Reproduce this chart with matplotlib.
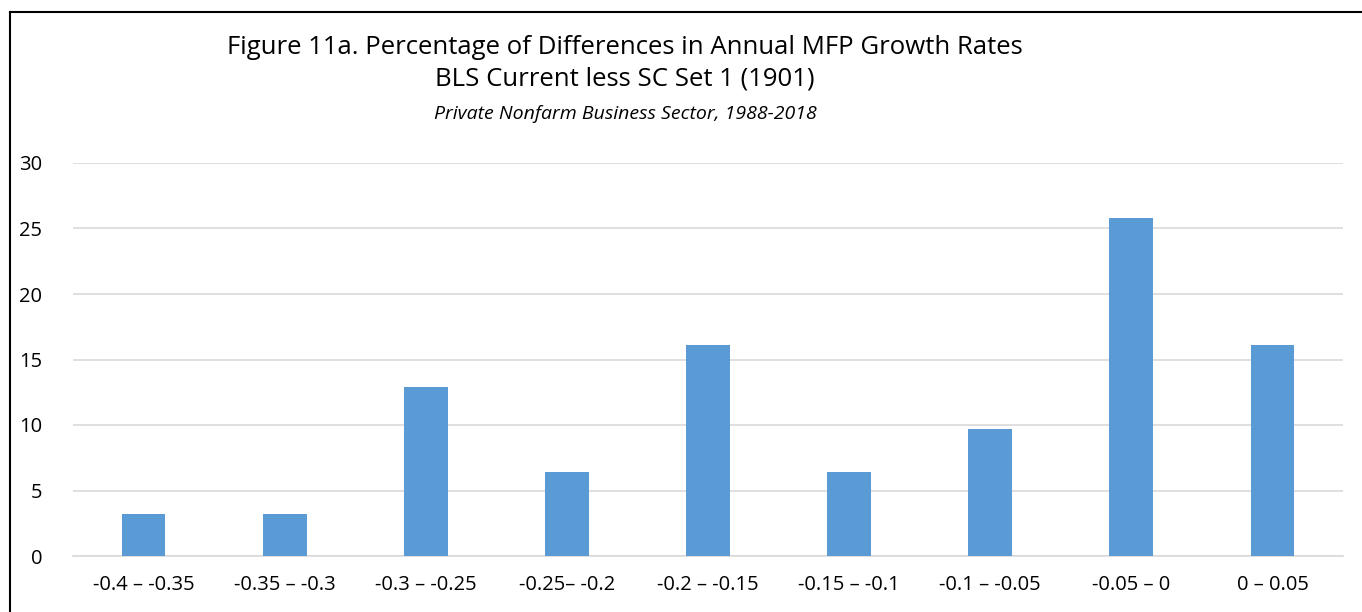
import matplotlib.pyplot as plt
import numpy as np
from matplotlib.lines import Line2D

# shares of 31 years falling in each bin (percent)
bins = ['-0.4 \u2013 -0.35', '-0.35 \u2013 -0.3', '-0.3 \u2013 -0.25', '-0.25\u2013 -0.2',
        '-0.2 \u2013 -0.15', '-0.15 \u2013 -0.1', '-0.1 \u2013 -0.05', '-0.05 \u2013 0',
        '0 \u2013 0.05']
percent = [3.23, 3.23, 12.90, 6.45, 16.13, 6.45, 9.68, 25.81, 16.13]
y_ticks = [0, 5, 10, 15, 20, 25, 30]

plt.rcParams['font.family'] = ['Open Sans', 'DejaVu Sans']

W, H = 1362, 612
fig = plt.figure(figsize=(W / 100, H / 100), dpi=100)
ax = fig.add_axes([73 / W, 1 - 556 / H, (1343 - 73) / W, (556 - 163) / H])

x = np.arange(len(bins))
ax.bar(x, percent, width=0.31, color='#5B9BD5', zorder=3)

ax.set_xlim(-0.5, len(bins) - 0.5)
ax.set_ylim(0, 30)
ax.set_yticks(y_ticks)
ax.set_xticks(x)
ax.set_xticklabels(bins)
ax.yaxis.grid(True, color='#D9D9D9', linewidth=1.2, zorder=0)
for side in ['left', 'right', 'top']:
    ax.spines[side].set_visible(False)
ax.spines['bottom'].set_color('#D9D9D9')
ax.spines['bottom'].set_linewidth(1.2)
ax.tick_params(axis='both', length=0, labelsize=14.5, colors='black')
ax.tick_params(axis='y', pad=22)
ax.tick_params(axis='x', pad=14)

cx = 625 / W
fig.text(cx, 1 - 47 / H, 'Figure 11a. Percentage of Differences in Annual MFP Growth Rates',
         ha='center', va='center', fontsize=18.5)
fig.text(cx, 1 - 79 / H, 'BLS Current less SC Set 1 (1901)',
         ha='center', va='center', fontsize=18.5)
fig.text(cx, 1 - 114 / H, 'Private Nonfarm Business Sector, 1988-2018',
         ha='center', va='center', fontsize=14, style='italic')

# outer chart border (only left and top edges are visible in the frame)
fig.add_artist(Line2D([10 / W, 10 / W], [0, 1 - 12 / H], color='black', linewidth=1.5,
                      transform=fig.transFigure))
fig.add_artist(Line2D([10 / W, 1], [1 - 12 / H, 1 - 12 / H], color='black', linewidth=1.5,
                      transform=fig.transFigure))

fig.savefig('out.png', dpi=100)
